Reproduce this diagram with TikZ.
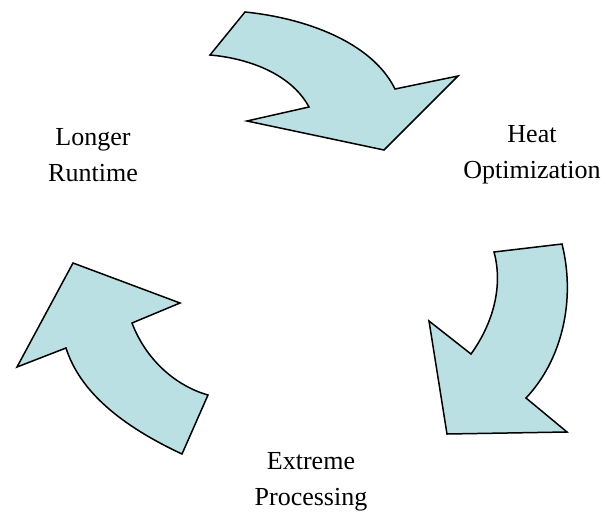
\documentclass[tikz,border=0pt]{standalone}
\usepackage{fontspec}
\setmainfont{Liberation Serif}
\definecolor{arrowfill}{RGB}{187,224,227}
\tikzset{
  cyclearrow/.style={draw=black,fill=arrowfill,line width=1.5pt,line join=miter},
  steplabel/.style={align=center,font=\fontsize{26}{36}\selectfont,inner sep=0pt}
}
\begin{document}
\begin{tikzpicture}[x=1pt,y=-1pt]
    \useasboundingbox (0,0) rectangle (615,511);
    % top arrow
    \draw[cyclearrow] (245,12) .. controls (305,18) and (372,42) .. (395,89)
      -- (458,76) -- (384,150) -- (247,121) -- (309,107)
      .. controls (290,72) and (245,58) .. (210,55) -- cycle;
    % right arrow
    \draw[cyclearrow] (562,244) .. controls (576,300) and (562,360) .. (526,398)
      -- (567,432) -- (447,434) -- (429,321) -- (471,354)
      .. controls (494,322) and (503,285) .. (494,252) -- cycle;
    % left arrow
    \draw[cyclearrow] (182,454) .. controls (122,426) and (80,392) .. (66,348)
      -- (17,367) -- (73,263) -- (180,303) -- (132,323)
      .. controls (146,360) and (176,386) .. (208,395) -- cycle;
    \node[steplabel] (runtime) at (93,155) {Longer\\Runtime};
    \node[steplabel] (heat) at (532,155) {Heat\\Optimization};
    \node[steplabel] (extreme) at (311,482) {Extreme\\Processing};
\end{tikzpicture}
\end{document}
